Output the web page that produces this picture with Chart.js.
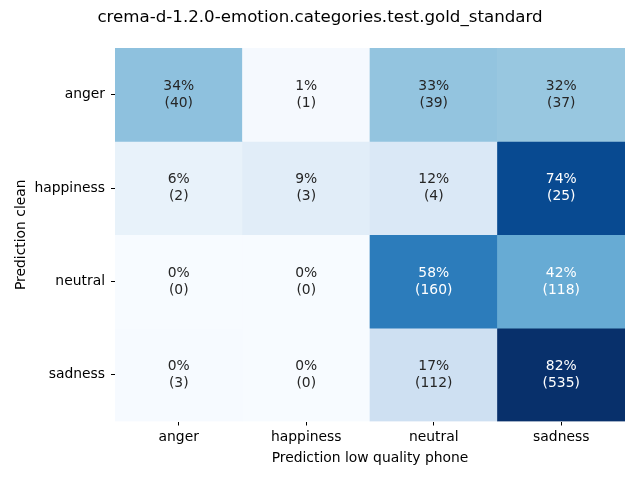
<!DOCTYPE html>
<html>
<head>
<meta charset="utf-8">
<script src="https://cdn.jsdelivr.net/npm/chart.js@4"></script>
<style>
  html, body { margin: 0; padding: 0; background: #fff; }
  #wrap { width: 640px; height: 480px; }
</style>
</head>
<body>
<div id="wrap"><canvas id="chart" width="640" height="480"></canvas></div>
<script>
const title = 'crema-d-1.2.0-emotion.categories.test.gold_standard';
const colLabels = ['anger', 'happiness', 'neutral', 'sadness'];
const rowLabels = ['anger', 'happiness', 'neutral', 'sadness'];

// percentages per row (Prediction clean), columns = Prediction low quality phone
const angerPct = [34, 1, 33, 32];
const happinessPct = [6, 9, 12, 74];
const neutralPct = [0, 0, 58, 42];
const sadnessPct = [0.46, 0, 17, 82];

const angerCount = [40, 1, 39, 37];
const happinessCount = [2, 3, 4, 25];
const neutralCount = [0, 0, 160, 118];
const sadnessCount = [3, 0, 112, 535];

const pctRows = [angerPct, happinessPct, neutralPct, sadnessPct];
const countRows = [angerCount, happinessCount, neutralCount, sadnessCount];

// matplotlib Blues
const blues = [
  [247, 251, 255], [222, 235, 247], [198, 219, 239], [158, 202, 225],
  [107, 174, 214], [66, 146, 198], [33, 113, 181], [8, 81, 156], [8, 48, 107]
];
const vmax = Math.max(...pctRows.flat());

function bluesAt(t) {
  t = Math.min(1, Math.max(0, t));
  const s = t * (blues.length - 1);
  const i = Math.min(blues.length - 2, Math.floor(s));
  const f = s - i;
  return blues[i].map((c, k) => Math.round(c + (blues[i + 1][k] - c) * f));
}

function luminance(rgb) {
  const lin = rgb.map(c => {
    c = c / 255;
    return c <= 0.03928 ? c / 12.92 : Math.pow((c + 0.055) / 1.055, 2.4);
  });
  return 0.2126 * lin[0] + 0.7152 * lin[1] + 0.0722 * lin[2];
}

const datasets = rowLabels.map((row, r) => ({
  label: row,
  data: colLabels.map(() => [r, r + 1]),
  backgroundColor: pctRows[r].map(p => {
    const c = bluesAt(p / vmax);
    return `rgb(${c[0]},${c[1]},${c[2]})`;
  }),
  borderWidth: 0,
  barPercentage: 1,
  categoryPercentage: 1,
  grouped: false
}));

const cellText = {
  id: 'cellText',
  afterDatasetsDraw(chart) {
    const { ctx, scales: { x, y } } = chart;
    ctx.save();
    ctx.font = '13.89px "DejaVu Sans"';
    ctx.textAlign = 'center';
    ctx.textBaseline = 'middle';
    rowLabels.forEach((row, r) => {
      colLabels.forEach((col, c) => {
        const cx = x.getPixelForValue(c);
        const cy = y.getPixelForValue(r + 0.5);
        const rgb = bluesAt(pctRows[r][c] / vmax);
        ctx.fillStyle = luminance(rgb) > 0.408 ? '#262626' : '#ffffff';
        ctx.fillText(Math.round(pctRows[r][c]) + '%', cx, cy - 8.5);
        ctx.fillText('(' + countRows[r][c] + ')', cx, cy + 8.5);
      });
    });
    ctx.restore();
  }
};

const figTitle = {
  id: 'figTitle',
  afterDraw(chart) {
    const ctx = chart.ctx;
    ctx.save();
    ctx.font = '16.67px "DejaVu Sans"';
    ctx.fillStyle = '#000';
    ctx.textAlign = 'center';
    ctx.textBaseline = 'middle';
    ctx.fillText(title, 320, 18);
    ctx.restore();
  }
};

Chart.defaults.font.family = '"DejaVu Sans"';
Chart.defaults.font.size = 13.89;
Chart.defaults.color = '#000';

new Chart(document.getElementById('chart'), {
  type: 'bar',
  data: { labels: colLabels, datasets },
  options: {
    responsive: false,
    animation: false,
    layout: { padding: { left: 0, right: 15, top: 48, bottom: 0 } },
    plugins: { legend: { display: false }, tooltip: { enabled: false } },
    scales: {
      x: {
        grid: { display: true, drawOnChartArea: false, drawTicks: true, tickLength: 4, color: '#000', offset: false },
        border: { display: false },
        ticks: { padding: 4, color: '#000' },
        title: { display: true, text: 'Prediction low quality phone', color: '#000', padding: { top: 0, bottom: 13 } },
        afterFit(s) { s.height = 58.5; }
      },
      y: {
        min: 0,
        max: 4,
        reverse: true,
        grid: { display: true, drawOnChartArea: false, drawTicks: true, tickLength: 4, color: '#000' },
        border: { display: false },
        afterBuildTicks(s) { s.ticks = rowLabels.map((_, i) => ({ value: i + 0.5 })); },
        ticks: {
          padding: 6,
          color: '#000',
          callback: (v) => rowLabels[Math.floor(v)]
        },
        title: { display: true, text: 'Prediction clean', color: '#000', padding: { top: 13, bottom: 0 } },
        afterFit(s) { s.width = 115; }
      }
    }
  },
  plugins: [cellText, figTitle]
});
</script>
</body>
</html>
